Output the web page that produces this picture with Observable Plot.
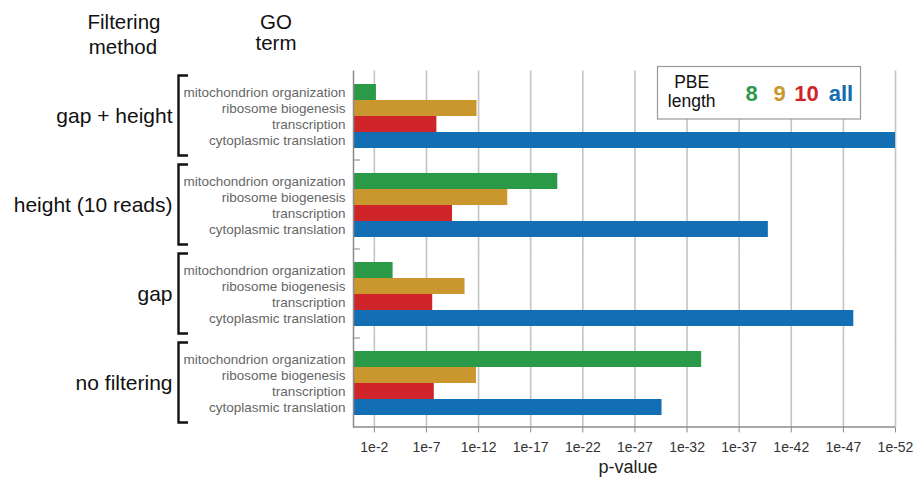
<!DOCTYPE html>
<html><head><meta charset="utf-8">
<script src="https://cdn.jsdelivr.net/npm/d3@7"></script>
<script src="https://cdn.jsdelivr.net/npm/@observablehq/plot@0.6"></script>
<style>
body{margin:0;background:#fff;}
svg{font-family:"Liberation Sans", Arial, sans-serif;}
</style>
</head><body><div id="chart"></div>
<script>
// ---- data ----
const methods = ["gap + height", "height (10 reads)", "gap", "no filtering"];
const terms = ["mitochondrion organization", "ribosome biogenesis", "transcription", "cytoplasmic translation"];
const pbeLengths = ["8", "9", "10", "all"];
const colors = ["#2a9a48", "#c9972e", "#cf2429", "#146eb4"];
// -log10(p-value) per method (same order as methods)
const mitoValues  = [2.2, 19.6, 3.8, 33.4];
const riboValues  = [11.85, 14.8, 10.7, 11.8];
const transValues = [8.0, 9.5, 7.6, 7.75];
const cytoValues  = [52, 39.8, 48.0, 29.6];
const xTicks = [2, 7, 12, 17, 22, 27, 32, 37, 42, 47, 52];
const xTickLabels = ["1e-2", "1e-7", "1e-12", "1e-17", "1e-22", "1e-27", "1e-32", "1e-37", "1e-42", "1e-47", "1e-52"];

const series = [mitoValues, riboValues, transValues, cytoValues];
const data = [];
methods.forEach((m, i) => terms.forEach((t, j) => data.push({method: m, term: t, value: series[j][i]})));

const chart = Plot.plot({
  width: 917, height: 478,
  marginLeft: 353, marginRight: 22, marginTop: 70, marginBottom: 50,
  style: {fontFamily: '"Liberation Sans", Arial, sans-serif', background: "white"},
  x: {domain: [0, 52]},
  y: {domain: terms, padding: 0},
  fy: {domain: methods, paddingInner: 0.268, paddingOuter: 0.134},
  color: {domain: terms, range: colors},
  marks: [
    Plot.ruleX(xTicks, {stroke: "#c4c4c4", strokeWidth: 1.6, insetTop: -12.5, insetBottom: -12.5}),
    Plot.barX(data, {x: "value", y: "term", fy: "method", fill: "term"}),
    Plot.ruleX([0], {stroke: "#8a8a8a", strokeWidth: 1.5, insetTop: -12.5, insetBottom: -12.5}),
    Plot.axisY({anchor: "left", tickSize: 0, tickPadding: 8, fontSize: 13.5, fill: "#666", label: null}),
    Plot.axisFy({anchor: "left", tickSize: 0, tickPadding: 181, fontSize: 21, fill: "#111", label: null}),
    Plot.axisX({anchor: "bottom", ticks: xTicks, tickFormat: d => xTickLabels[xTicks.indexOf(d)],
      tickSize: 5, tickPadding: 9, dy: 12.4, stroke: "#8a8a8a", fontSize: 14, fill: "#333", label: null})
  ]
});
document.getElementById("chart").appendChild(chart);

// ---- decorations using the chart's scales ----
const svg = d3.select(chart);
const xs = chart.scale("x"), fys = chart.scale("fy");
const [x0, x1] = xs.range;
const bw = fys.bandwidth, step = fys.step;
const gap = step - bw;
const fyPos = m => fys.apply(m);
const bottomY = fyPos(methods[methods.length - 1]) + bw + gap / 2;

// bottom axis line
svg.append("line").attr("x1", x0).attr("x2", x1).attr("y1", bottomY).attr("y2", bottomY)
  .attr("stroke", "#8a8a8a").attr("stroke-width", 1.5);

// small ticks between groups
methods.slice(1).forEach(m => {
  const y = fyPos(m) - gap / 2;
  svg.append("line").attr("x1", x0).attr("x2", x0 + 7).attr("y1", y).attr("y2", y)
    .attr("stroke", "#999").attr("stroke-width", 1.2);
});

// brackets
methods.forEach(m => {
  const y0 = fyPos(m) - 7.5, y1 = fyPos(m) + bw + 7.5;
  svg.append("path").attr("d", `M188,${y0}H178.5V${y1}H188`)
    .attr("fill", "none").attr("stroke", "#111").attr("stroke-width", 2.4);
});

// headers
const hdr = (t, x, y) => svg.append("text").attr("x", x).attr("y", y).attr("text-anchor", "middle")
  .attr("font-size", 20.5).attr("fill", "#111").text(t);
hdr("Filtering", 124, 29); hdr("method", 123, 54);
hdr("GO", 276, 29); hdr("term", 276, 50);

// x label
svg.append("text").attr("x", (x0 + x1) / 2 + 4).attr("y", 473).attr("text-anchor", "middle")
  .attr("font-size", 18).attr("fill", "#222").text("p-value");

// legend
svg.append("rect").attr("x", 657.5).attr("y", 66.5).attr("width", 203).attr("height", 52.5)
  .attr("fill", "white").attr("stroke", "#999").attr("stroke-width", 1.2);
svg.append("text").attr("x", 691.7).attr("y", 88).attr("text-anchor", "middle")
  .attr("font-size", 17.5).attr("fill", "#111").text("PBE");
svg.append("text").attr("x", 691.7).attr("y", 106.5).attr("text-anchor", "middle")
  .attr("font-size", 17.5).attr("fill", "#111").text("length");
const legCx = [751.5, 779.5, 806.5, 841];
pbeLengths.forEach((l, i) => {
  svg.append("text").attr("x", legCx[i]).attr("y", 100.7).attr("text-anchor", "middle")
    .attr("font-size", 22).attr("font-weight", "bold")
    .attr("fill", chart.scale("color").apply(terms[i])).text(l);
});
</script>
</body></html>
